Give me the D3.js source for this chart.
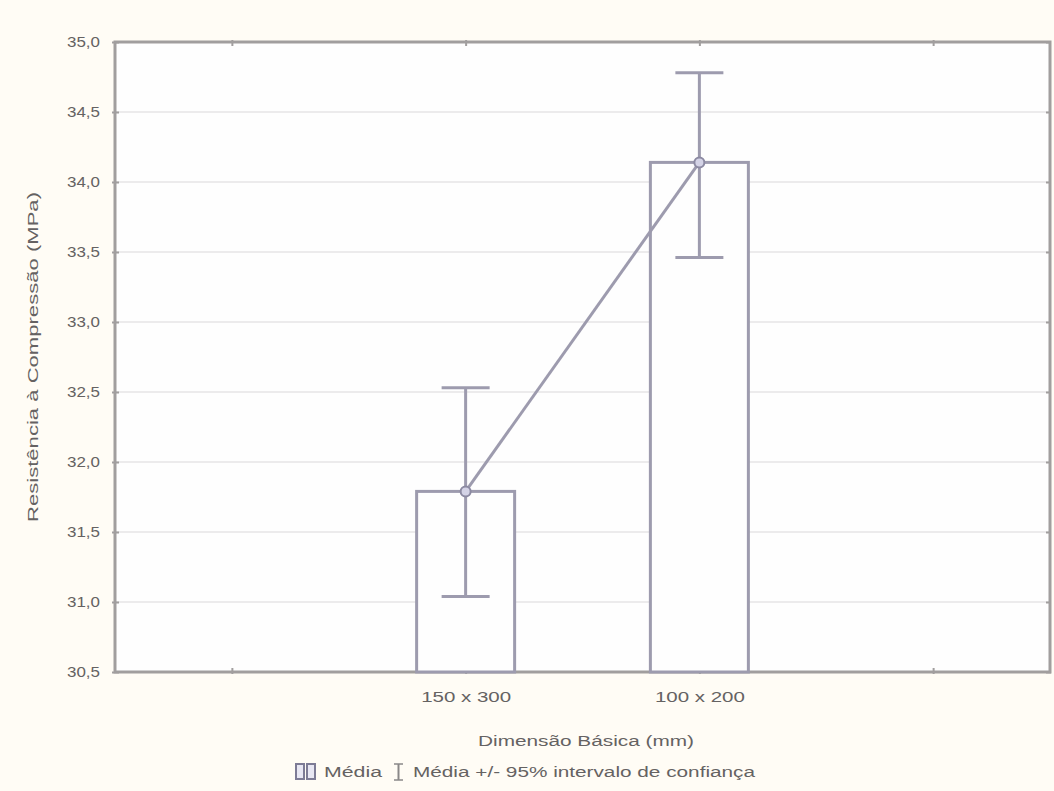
<!DOCTYPE html>
<html>
<head>
<meta charset="utf-8">
<script src="https://d3js.org/d3.v7.min.js"></script>
<style>
  html, body { margin: 0; padding: 0; background: #fffcf5; }
  svg { display: block; }
  text { font-family: "Liberation Sans", Arial, sans-serif; fill: #656262; }
</style>
</head>
<body>
<svg id="chart" width="1054" height="791"></svg>
<script>
// Category slots on the x axis (the outer two are empty)
const slots = ["", "150 x 300", "100 x 200", " "];
const categories = ["150 x 300", "100 x 200"];
const means = [31.79, 34.14];
const ciLow = [31.04, 33.46];
const ciHigh = [32.53, 34.78];
const yTicks = [30.5, 31.0, 31.5, 32.0, 32.5, 33.0, 33.5, 34.0, 34.5, 35.0];

const yTitle = "Resistência à Compressão (MPa)";
const xTitle = "Dimensão Básica (mm)";
const legendMean = "Média";
const legendCI = "Média +/- 95% intervalo de confiança";

const svg = d3.select("#chart");
const margin = { left: 115, right: 4, top: 42, bottom: 119 };
const W = 1054, H = 791;
const plotW = W - margin.left - margin.right;
const plotH = H - margin.top - margin.bottom;

const lineCol = "#9d9bae";
const axisCol = "#a19e9e";
const fontSize = "14px";

const x = d3.scalePoint().domain(slots).range([0, plotW]).padding(0.5);
const y = d3.scaleLinear().domain([30.5, 35.0]).range([plotH, 0]);

const g = svg.append("g").attr("transform", `translate(${margin.left},${margin.top})`);

// plot background
g.append("rect").attr("width", plotW).attr("height", plotH).attr("fill", "#fefefe");

// horizontal grid
g.append("g").selectAll("line").data(yTicks).join("line")
  .attr("x1", 0).attr("x2", plotW)
  .attr("y1", d => y(d)).attr("y2", d => y(d))
  .attr("stroke", "#ecebec").attr("stroke-width", 2);

const fmt = d => d.toFixed(1).replace(".", ",");

// left axis
const yAxis = g.append("g").call(d3.axisLeft(y).tickValues(yTicks).tickFormat(fmt).tickSize(5).tickPadding(10));
yAxis.select(".domain").remove();
yAxis.selectAll(".tick line").attr("stroke", axisCol).attr("stroke-width", 2).attr("x2", 4).attr("x1", -3);
yAxis.selectAll(".tick text").style("font-size", fontSize)
  .attr("textLength", 33).attr("lengthAdjust", "spacingAndGlyphs");

// bottom axis
const xAxis = g.append("g").attr("transform", `translate(0,${plotH})`)
  .call(d3.axisBottom(x).tickSize(4).tickPadding(16));
xAxis.select(".domain").remove();
xAxis.selectAll(".tick line").attr("stroke", axisCol).attr("stroke-width", 2).attr("y1", -4).attr("y2", 2);
xAxis.selectAll(".tick text").style("font-size", fontSize)
  .filter(d => d.trim() !== "")
  .attr("textLength", 90).attr("lengthAdjust", "spacingAndGlyphs");

// top axis ticks
const topAxis = g.append("g").call(d3.axisTop(x).tickSize(4).tickFormat(""));
topAxis.select(".domain").remove();
topAxis.selectAll(".tick line").attr("stroke", axisCol).attr("stroke-width", 2).attr("y1", 4).attr("y2", -2);

// right axis ticks
const rightAxis = g.append("g").attr("transform", `translate(${plotW},0)`)
  .call(d3.axisRight(y).tickValues(yTicks).tickSize(4).tickFormat(""));
rightAxis.select(".domain").remove();
rightAxis.selectAll(".tick line").attr("stroke", axisCol).attr("stroke-width", 2).attr("x1", -4).attr("x2", 1);

// frame
g.append("rect").attr("width", plotW).attr("height", plotH)
  .attr("fill", "none").attr("stroke", axisCol).attr("stroke-width", 3);

// bars
const barW = 98;
g.append("g").selectAll("rect").data(categories).join("rect")
  .attr("x", (d) => x(d) - barW / 2)
  .attr("y", (d, i) => y(means[i]))
  .attr("width", barW)
  .attr("height", (d, i) => plotH - y(means[i]))
  .attr("fill", "#fefefe").attr("stroke", lineCol).attr("stroke-width", 3);

// line through means
g.append("path")
  .datum(categories)
  .attr("d", d3.line().x(d => x(d)).y((d, i) => y(means[i])))
  .attr("fill", "none").attr("stroke", lineCol).attr("stroke-width", 3);

// error bars
const capW = 48;
const eb = g.append("g").selectAll("g").data(categories).join("g");
eb.append("line")
  .attr("x1", d => x(d)).attr("x2", d => x(d))
  .attr("y1", (d, i) => y(ciLow[i])).attr("y2", (d, i) => y(ciHigh[i]))
  .attr("stroke", lineCol).attr("stroke-width", 3);
eb.append("line")
  .attr("x1", d => x(d) - capW / 2).attr("x2", d => x(d) + capW / 2)
  .attr("y1", (d, i) => y(ciHigh[i])).attr("y2", (d, i) => y(ciHigh[i]))
  .attr("stroke", lineCol).attr("stroke-width", 3);
eb.append("line")
  .attr("x1", d => x(d) - capW / 2).attr("x2", d => x(d) + capW / 2)
  .attr("y1", (d, i) => y(ciLow[i])).attr("y2", (d, i) => y(ciLow[i]))
  .attr("stroke", lineCol).attr("stroke-width", 3);

// mean markers
g.append("g").selectAll("circle").data(categories).join("circle")
  .attr("cx", d => x(d)).attr("cy", (d, i) => y(means[i])).attr("r", 5)
  .attr("fill", "#d4d3e6").attr("stroke", "#8c8aa2").attr("stroke-width", 2);

// axis titles
svg.append("text")
  .attr("transform", "translate(38,357) rotate(-90)")
  .attr("text-anchor", "middle").style("font-size", fontSize)
  .attr("textLength", 330).attr("lengthAdjust", "spacingAndGlyphs")
  .text(yTitle);
svg.append("text")
  .attr("x", 586).attr("y", 746)
  .attr("text-anchor", "middle").style("font-size", fontSize)
  .attr("textLength", 216).attr("lengthAdjust", "spacingAndGlyphs")
  .text(xTitle);

// legend
const lg = svg.append("g").attr("transform", "translate(296,776)");
lg.append("rect").attr("x", 0).attr("y", -12).attr("width", 8).attr("height", 15)
  .attr("fill", "#e8e7f3").attr("stroke", "#7d7b95").attr("stroke-width", 2);
lg.append("rect").attr("x", 11).attr("y", -12).attr("width", 8).attr("height", 15)
  .attr("fill", "#e8e7f3").attr("stroke", "#7d7b95").attr("stroke-width", 2);
lg.append("text").attr("x", 28).attr("y", 1).style("font-size", fontSize)
  .attr("textLength", 58).attr("lengthAdjust", "spacingAndGlyphs").text(legendMean);
const ci = lg.append("g").attr("transform", "translate(98,0)");
ci.append("line").attr("x1", 0).attr("x2", 9).attr("y1", -12).attr("y2", -12).attr("stroke", "#8a8888").attr("stroke-width", 1.5);
ci.append("line").attr("x1", 0).attr("x2", 9).attr("y1", 4).attr("y2", 4).attr("stroke", "#8a8888").attr("stroke-width", 1.5);
ci.append("line").attr("x1", 4.5).attr("x2", 4.5).attr("y1", -12).attr("y2", 4).attr("stroke", "#8a8888").attr("stroke-width", 2);
lg.append("text").attr("x", 117).attr("y", 1).style("font-size", fontSize)
  .attr("textLength", 342).attr("lengthAdjust", "spacingAndGlyphs").text(legendCI);
</script>
</body>
</html>
